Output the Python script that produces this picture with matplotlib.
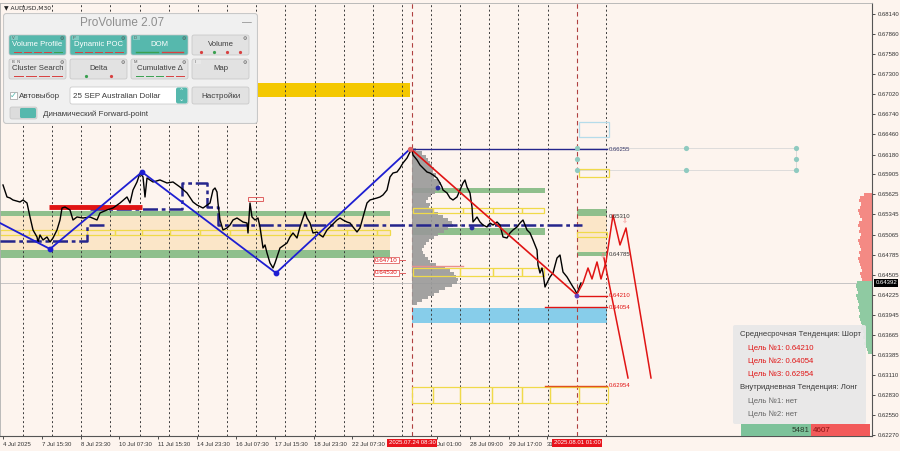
import numpy as np
import matplotlib.pyplot as plt
from matplotlib.patches import Rectangle, FancyBboxPatch
from matplotlib.transforms import blended_transform_factory

plt.rcParams['font.family'] = ['Liberation Sans', 'DejaVu Sans']

BG = '#fdf4ee'
GREEN = '#8fbf8c'
BEIGE = '#fbe6c8'
YELLOW = '#f0da4a'
GOLD = '#f4c800'
NAVY = '#25258c'
BLUE = '#1e1ed2'
RED = '#e01414'
TEAL = '#56b8ad'

# ---- AUDUSD M30 closes (x = chart position) ---------------------------
t = [3, 7, 10, 13, 20, 23, 27, 30, 33, 37, 38, 40, 43, 47, 50, 53, 57, 60, 62, 65,
     70, 73, 77, 83, 90, 97, 100, 107, 113, 120, 127, 130, 133, 137, 140, 143, 145, 147, 153, 160,
     167, 173, 180, 187, 193, 197, 203, 210, 213, 215, 217, 218, 220, 223, 227, 230, 233, 237, 240, 243,
     247, 248, 250, 252, 255, 258, 260, 263, 265, 267, 270, 273, 275, 277, 280, 287, 290, 293, 297, 300,
     303, 305, 307, 310, 313, 317, 320, 323, 327, 330, 337, 340, 343, 347, 350, 353, 357, 360, 363, 365,
     367, 370, 377, 380, 383, 387, 390, 393, 397, 400, 403, 407, 410, 412, 413, 417, 420, 423, 427, 430,
     433, 437, 440, 442, 443, 447, 450, 453, 457, 460, 463, 465, 467, 470, 472, 473, 477, 480, 483, 487,
     490, 493, 497, 500, 503, 507, 510, 513, 517, 520, 523, 527, 530, 533, 537, 538, 540, 542, 543, 545,
     547, 550, 553, 557, 560, 563, 567, 570, 573, 575, 577, 579, 581]
close = [0.65756, 0.65589, 0.65575, 0.65547, 0.65519, 0.65547, 0.65505, 0.65310, 0.65129, 0.65031,
         0.64961, 0.65059, 0.64989, 0.65031, 0.64961, 0.65017, 0.65129, 0.65268, 0.65435, 0.65449,
         0.65408, 0.65268, 0.65310, 0.65296, 0.65310, 0.65268, 0.65366, 0.65408, 0.65435, 0.65505,
         0.65589, 0.65505, 0.65686, 0.65798, 0.65923, 0.65868, 0.65589, 0.65854, 0.65798, 0.65826,
         0.65784, 0.65798, 0.65728, 0.65645, 0.65519, 0.65477, 0.65435, 0.65505, 0.65686, 0.65714,
         0.65658, 0.65505, 0.65268, 0.65129, 0.65157, 0.65198, 0.65268, 0.65296, 0.65268, 0.65240,
         0.65226, 0.65087, 0.65505, 0.65310, 0.65268, 0.65296, 0.65171, 0.64878, 0.64920, 0.64808,
         0.64669, 0.64599, 0.64669, 0.64752, 0.64878, 0.64947, 0.65031, 0.65087, 0.65017, 0.65171,
         0.65296, 0.65380, 0.65296, 0.65226, 0.65087, 0.65101, 0.65059, 0.65031, 0.65129, 0.65171,
         0.65268, 0.65296, 0.65268, 0.65240, 0.65226, 0.65171, 0.65101, 0.65157, 0.65310, 0.65408,
         0.65505, 0.65547, 0.65575, 0.65589, 0.65617, 0.65686, 0.65868, 0.65923, 0.65937, 0.65993,
         0.66063, 0.66132, 0.66216, 0.66244, 0.66174, 0.66105, 0.66035, 0.65993, 0.65937, 0.65923,
         0.65896, 0.65854, 0.65784, 0.65728, 0.65686, 0.65645, 0.65575, 0.65547, 0.65589, 0.65686,
         0.65784, 0.65826, 0.65728, 0.65645, 0.65449, 0.65240, 0.65310, 0.65240, 0.65198, 0.65171,
         0.65226, 0.65198, 0.65240, 0.65198, 0.65031, 0.65017, 0.65087, 0.65129, 0.65171, 0.65226,
         0.65268, 0.65129, 0.65087, 0.64989, 0.64850, 0.64641, 0.64529, 0.64599, 0.64529, 0.64334,
         0.64390, 0.64474, 0.64529, 0.64738, 0.64780, 0.64543, 0.64474, 0.64404, 0.64334, 0.64292,
         0.64236, 0.64320, 0.64390]
last_price = 0.64392

# zigzag swings and trend
zig_t = [0, 50, 142, 276, 410]
zig_p = [0.65226, 0.64864, 0.65937, 0.64529, 0.66258]
trend_t = [412, 577]
trend_p = [0.66244, 0.64222]
fc_t = [577, 583, 588, 592, 597, 601, 606, 613, 620, 626, 651]
fc_p = [0.64236, 0.64390, 0.64599, 0.64446, 0.64683, 0.64446, 0.64683, 0.65338, 0.64920, 0.65157, 0.63066]
fc2_t = [604, 628]
fc2_p = [0.64738, 0.63066]

# stepped POC lines
poc1_t = [0, 87, 87, 107]
poc1_p = [0.64975, 0.64975, 0.65198, 0.65198]
poc2_t = [90, 182, 182, 207, 207, 218, 218, 582]
poc2_p = [0.65421, 0.65421, 0.65784, 0.65784, 0.65449, 0.65449, 0.65198, 0.65198]

# zones: start, end, low, high
green_zones = [(0, 390, 0.65324, 0.65394), (0, 390, 0.64738, 0.64850),
               (412, 545, 0.65645, 0.65714), (412, 545, 0.65059, 0.65157),
               (577, 607, 0.65324, 0.65421), (577, 607, 0.64766, 0.64822)]
beige_zones = [(0, 390, 0.64850, 0.65324), (577, 607, 0.64822, 0.65324)]
yellow_rows = [([0, 29, 58, 87, 115, 142, 170, 200, 230, 260, 290, 320, 347, 377, 390], 0.65059, 0.65129),
               ([413, 433, 463, 493, 522, 544], 0.65366, 0.65435),
               ([413, 460, 493, 522, 544], 0.64487, 0.64599),
               ([412, 433, 460, 492, 522, 550, 579, 608], 0.62717, 0.62940),
               ([577, 607], 0.65031, 0.65101),
               ([579, 609], 0.65868, 0.65979)]
gold_zone = (250, 410, 0.66983, 0.67178)
sky_zone = (412, 607, 0.63832, 0.64042)
sky_box = (579, 609, 0.66425, 0.66634)

level_lines = [(410, 607, 0.66255, NAVY), (577, 607, 0.64210, RED),
               (545, 607, 0.64054, RED), (545, 607, 0.62954, '#e05020'),
               (412, 463, 0.64620, '#e89090')]
level_labels = [(0.66255, '0.66255', '#3a3a6a'), (0.65310, '0.65310', '#333333'),
                (0.64785, '0.64785', '#333333'), (0.64210, '0.64210', RED),
                (0.64054, '0.64054', RED), (0.62954, '0.62954', RED)]
box_labels = [0.64710, 0.64530]

red_bar = (49, 142, 0.65449)
grid_t = [23, 52, 81, 110, 140, 169, 198, 227, 256, 285, 315, 344, 373, 402, 431, 460, 489, 518, 548, 606]
event_t = [412, 577]

# volume profile of last swing
prof_top, prof_step = 0.66244, 0.00042
prof_w = [4, 10, 14, 16, 18, 20, 22, 21, 24, 22, 26, 29, 27, 25, 23, 19, 16, 14, 18, 17,
          21, 26, 31, 36, 40, 41, 36, 32, 26, 22, 17, 14, 12, 10, 11, 13, 16, 18, 24, 33,
          38, 42, 44, 46, 45, 40, 33, 27, 22, 16, 10, 5]

# right-side market profile
sell_top = 0.65617
sell_vol = [8, 12, 13, 11, 12, 14, 13, 12, 10, 13, 14, 12, 13, 11, 12, 14, 13, 12, 11, 13,
            12, 14, 13, 12, 11, 10, 12, 11, 10, 9]
buy_top = 0.64390
buy_vol = [15, 16, 15, 14, 16, 15, 14, 13, 14, 13, 12, 13, 12, 11, 10, 11, 9, 8, 9, 7, 8, 6, 5, 4]
sell_ticks_p = [0.66969, 0.66286, 0.66132, 0.65937, 0.65882, 0.65812, 0.65742]
sell_ticks_v = [15, 8, 6, 22, 10, 6, 9]
buy_total, sell_total = 5481, 4607

price_ticks = [0.68140, 0.67860, 0.67580, 0.67300, 0.67020, 0.66740, 0.66460, 0.66180, 0.65905,
               0.65625, 0.65345, 0.65065, 0.64785, 0.64505, 0.64225, 0.63945, 0.63665, 0.63385,
               0.63110, 0.62830, 0.62550, 0.62270]
time_ticks = [3, 42, 81, 119, 158, 197, 236, 275, 314, 352, 437, 470, 509, 547]
time_labels = ['4 Jul 2025', '7 Jul 15:30', '8 Jul 23:30', '10 Jul 07:30', '11 Jul 15:30',
               '14 Jul 23:30', '16 Jul 07:30', '17 Jul 15:30', '18 Jul 23:30', '22 Jul 07:30',
               'Jul 01:00', '28 Jul 09:00', '29 Jul 17:00', '31']
event_labels = ['2025.07.24 08:30', '2025.08.01 01:00']

info_lines = [('Среднесрочная Тенденция: Шорт', '#3a3a3a', 0),
              ('Цель №1: 0.64210', RED, 1), ('Цель №2: 0.64054', RED, 1),
              ('Цель №3: 0.62954', RED, 1),
              ('Внутридневная Тенденция: Лонг', '#3a3a3a', 0),
              ('Цель №1: нет', '#666666', 1), ('Цель №2: нет', '#666666', 1)]

# ---- figure ------------------------------------------------------------
fig = plt.figure(figsize=(9, 4.51), dpi=100)
fig.patch.set_facecolor(BG)
ax = fig.add_axes([0, 15 / 451, 872 / 900, 433 / 451])
ax.set_facecolor(BG)
ax.set_xlim(0, 872)
ax.set_ylim(0.62257, 0.68293)

for a, b, lo, hi in beige_zones:
    ax.add_patch(Rectangle((a, lo), b - a, hi - lo, color=BEIGE, lw=0, zorder=1))
for a, b, lo, hi in green_zones:
    ax.add_patch(Rectangle((a, lo), b - a, hi - lo, color=GREEN, lw=0, zorder=1.2))
ax.add_patch(Rectangle((gold_zone[0], gold_zone[2]), gold_zone[1] - gold_zone[0],
                       gold_zone[3] - gold_zone[2], color=GOLD, lw=0, zorder=1))
ax.add_patch(Rectangle((sky_zone[0], sky_zone[2]), sky_zone[1] - sky_zone[0],
                       sky_zone[3] - sky_zone[2], color='#87cdea', lw=0, zorder=1))
ax.add_patch(Rectangle((sky_box[0], sky_box[2]), sky_box[1] - sky_box[0],
                       sky_box[3] - sky_box[2], fill=False, ec='#b5dcea', lw=0.9, zorder=2))

ax.vlines(grid_t, 0.62257, 0.68293, colors='#3a3a3a', linestyles=(0, (2, 2.6)), lw=0.7, zorder=1.5)
ax.vlines(event_t, 0.62257, 0.68293, colors='#b04040', linestyles=(0, (4, 3)), lw=0.8, zorder=1.5)
ax.axhline(last_price, color='#bdbdbd', lw=0.6, zorder=1.6)

prof_y = prof_top - np.arange(len(prof_w)) * prof_step
ax.barh(prof_y, prof_w, height=prof_step, left=412, color='#999999', alpha=0.9, lw=0, zorder=2)

for edges, lo, hi in yellow_rows:
    for a, b in zip(edges[:-1], edges[1:]):
        ax.add_patch(Rectangle((a, lo), b - a, hi - lo, fill=False, ec=YELLOW, lw=0.9, zorder=2.5))

sell_y = sell_top - np.arange(len(sell_vol)) * prof_step
ax.barh(sell_y, sell_vol, height=prof_step, left=872 - np.array(sell_vol), color='#f48a84', lw=0, zorder=2)
ax.barh(sell_ticks_p, sell_ticks_v, height=0.00012, left=872 - np.array(sell_ticks_v),
        color='#f4a8a4', lw=0, zorder=2)
buy_y = buy_top - np.arange(len(buy_vol)) * prof_step
ax.barh(buy_y, buy_vol, height=prof_step, left=872 - np.array(buy_vol), color='#8fcaa2', lw=0, zorder=2)

ax.plot(poc1_t, poc1_p, color=NAVY, lw=1.8, ls=(0, (6, 1.5, 1.5, 1.5)), zorder=3)
ax.plot(poc2_t, poc2_p, color=NAVY, lw=1.8, ls=(0, (6, 1.5, 1.5, 1.5)), zorder=3)
ax.plot([red_bar[0], red_bar[1]], [red_bar[2]] * 2, color=RED, lw=3.5, solid_capstyle='butt', zorder=3)
ax.add_patch(Rectangle((248, 0.65533), 15, 0.00056, fill=False, ec='#e06060', lw=0.7, zorder=3))

for a, b, p, c in level_lines:
    ax.plot([a, b], [p, p], color=c, lw=1.0, zorder=3)
for p, lab, c in level_labels:
    ax.text(609, p, lab, fontsize=4.3, color=c, va='center', ha='left', zorder=5)
for p in box_labels:
    ax.text(386.5, p, f'{p:.5f}', fontsize=4.5, color=RED, va='center', ha='center', zorder=5,
            bbox=dict(boxstyle='square,pad=0.15', fc='white', ec='#e06060', lw=0.6))
    ax.plot([400, 405], [p, p], color='#e06060', lw=0.7, zorder=4)

# teal anchor dots
ax.plot([577, 796], [0.66272, 0.66272], color='#d8d8d8', lw=0.6, zorder=2)
ax.plot([577, 796], [0.65965, 0.65965], color='#d8d8d8', lw=0.6, zorder=2)
ax.plot([796, 796], [0.65965, 0.66272], color='#d8d8d8', lw=0.6, zorder=2)
ax.scatter([577, 686, 796, 577, 796, 577, 686, 796],
           [0.66272, 0.66272, 0.66272, 0.66119, 0.66119, 0.65965, 0.65965, 0.65965],
           s=14, color='#8fcac0', zorder=4, lw=0)

ax.plot(t, close, color='black', lw=1.0, zorder=4)
ax.plot(zig_t, zig_p, color=BLUE, lw=1.3, zorder=4.5)
ax.scatter(zig_t[1:4], zig_p[1:4], s=10, color=BLUE, zorder=5)
ax.scatter([410], [zig_p[-1]], s=8, color='#e06060', zorder=5)
ax.scatter([438, 472, 577], [0.65714, 0.65157, 0.64208], s=6, color=['#2a2aa0', '#2a2aa0', '#6040c0'], zorder=5)
ax.plot(trend_t, trend_p, color=RED, lw=1.2, zorder=4.5)
ax.plot(fc_t, fc_p, color=RED, lw=1.1, zorder=4.5)
ax.plot(fc2_t, fc2_p, color=RED, lw=1.1, zorder=4.5)
ax.text(603, 0.64760, '⇩', fontsize=5, color='#f08080', ha='center', va='center', zorder=5)
ax.text(625, 0.65250, '⇩', fontsize=5, color='#f08080', ha='center', va='center', zorder=5)

# axes styling
ax.yaxis.tick_right()
ax.set_yticks(price_ticks, [f'{p:.5f}' for p in price_ticks])
ax.set_xticks(time_ticks, time_labels, ha='left')
ax.tick_params(axis='y', labelsize=4.3, length=2.5, pad=1.5, colors='#333333', width=0.6)
ax.tick_params(axis='x', labelsize=4.3, length=2.5, pad=1.5, colors='#333333', width=0.6)
for s in ['right', 'bottom']:
    ax.spines[s].set_color('#555555')
    ax.spines[s].set_linewidth(0.8)
for s in ['left', 'top']:
    ax.spines[s].set_color('#b0b0b0')
    ax.spines[s].set_linewidth(0.6)

bx = blended_transform_factory(ax.transData, ax.transAxes)
for x, lab in zip(event_t, event_labels):
    ax.text(x, -0.016, lab, transform=bx, fontsize=4.3, color='white', ha='center', va='center',
            clip_on=False, zorder=6, bbox=dict(boxstyle='square,pad=0.25', fc='#e8141c', ec='none'))
by = blended_transform_factory(ax.transAxes, ax.transData)
ax.text(1.004, last_price, f'{last_price:.5f}', transform=by, fontsize=4.3, color='white',
        ha='left', va='center', clip_on=False, zorder=6,
        bbox=dict(boxstyle='square,pad=0.2', fc='black', ec='none'))

# ---- overlay: info box, counters, symbol -------------------------------
ui = fig.add_axes([0, 0, 1, 1])
ui.set_xlim(0, 900)
ui.set_ylim(451, 0)
ui.axis('off')
ui.patch.set_alpha(0)
ui.text(4, 8, '▼ AUDUSD,M30', fontsize=4.3, color='#222222', va='center', family=['DejaVu Sans'])
ui.add_patch(FancyBboxPatch((733, 325), 133, 99, boxstyle='round,pad=0,rounding_size=2',
                            fc='#e8e8e8', ec='none', alpha=0.93))
for i, (txt, c, ind) in enumerate(info_lines):
    ui.text(740 + 8 * ind, 335 + i * 13.2, txt, fontsize=5.6, color=c, va='center')
tot = buy_total + sell_total
gw = 129 * buy_total / tot
ui.add_patch(Rectangle((741, 424), gw, 12, color='#7dc29a', lw=0))
ui.add_patch(Rectangle((741 + gw, 424), 129 - gw, 12, color='#f25a5a', lw=0))
ui.text(741 + gw - 1.5, 430, str(buy_total), fontsize=5.8, ha='right', va='center', color='#2a3a2a')
ui.text(741 + gw + 1.5, 430, str(sell_total), fontsize=5.8, ha='left', va='center', color='#8a1010')

# ---- ProVolume panel ---------------------------------------------------
pn = fig.add_axes([3 / 900, 1 - 124 / 451, 255 / 900, 111 / 451])
pn.set_xlim(3, 258)
pn.set_ylim(124, 13)
pn.axis('off')
pn.add_patch(FancyBboxPatch((3.5, 13.5), 254, 110, boxstyle='round,pad=0,rounding_size=3',
                            fc='#f0f0f0', ec='#c8c8c8', lw=0.8))
pn.text(122, 23, 'ProVolume 2.07', fontsize=8.5, color='#8e8e8e', ha='center', va='center')
pn.text(247, 22, '—', fontsize=7, color='#8e8e8e', ha='center', va='center')

buttons = [('Volume Profile', 9, 35, True, 'V', 'rrrrg', '-'),
           ('Dynamic POC', 70, 35, True, 'P', 'rrrrr', '-'),
           ('DOM', 131, 35, True, 'D', 'gr', '='),
           ('Volume', 192, 35, False, '', 'rgrr', '.'),
           ('Cluster Search', 9, 59, False, 'B  N', 'rrrr', '-'),
           ('Delta', 70, 59, False, '', 'gr', '.'),
           ('Cumulative Δ', 131, 59, False, 'M', 'gggrr', '-'),
           ('Map', 192, 59, False, 'I', '', '-')]
bw, bh = 57, 20
for lab, x0, y0, teal, tag, inds, kind in buttons:
    pn.add_patch(FancyBboxPatch((x0, y0), bw, bh, boxstyle='round,pad=0,rounding_size=2',
                                fc=TEAL if teal else '#e2e2e2', ec='#c4c4c4', lw=0.5))
    pn.text(x0 + bw / 2, y0 + 10, lab, fontsize=5.6, ha='center', va='center',
            color='white' if teal else '#3c3c3c')
    if tag:
        pn.add_patch(Rectangle((x0 + 1.5, y0 + 0.8), 4 + 3 * len(tag.split()), 4.2,
                               fc='#e8e8e8' if not teal else '#7fcac1', ec='none'))
        pn.text(x0 + 2.5, y0 + 3, tag, fontsize=3, color='#555555', va='center')
    pn.text(x0 + bw - 4, y0 + 3, '⚙', fontsize=3.5, color='#555555', ha='center', va='center',
            family=['DejaVu Sans'])
    col = {'r': '#d84040', 'g': '#3aa050'}
    if inds:
        n = len(inds)
        seg = (bw - 6) / n
        for k, ch in enumerate(inds):
            xa = x0 + 3 + k * seg
            if kind == '.':
                pn.plot([xa + seg / 2], [y0 + bh - 3], marker='o', ms=1.3, color=col[ch], lw=0)
            elif kind == '=':
                pn.plot([xa + 2, xa + seg - 2], [y0 + bh - 3] * 2, color=col[ch], lw=1.0)
            else:
                pn.plot([xa + 1.5, xa + seg - 1.5], [y0 + bh - 3] * 2, color=col[ch], lw=0.7)

# row 3
pn.add_patch(Rectangle((10, 92), 7, 7, fc='white', ec='#9a9a9a', lw=0.5))
pn.text(13.5, 95, '✓', fontsize=6, color=TEAL, ha='center', va='center', family=['DejaVu Sans'])
pn.text(19, 96, 'Автовыбор', fontsize=5.8, color='#3c3c3c', va='center')
pn.add_patch(FancyBboxPatch((70, 87), 118, 17, boxstyle='round,pad=0,rounding_size=2',
                            fc='white', ec='#c4c4c4', lw=0.5))
pn.add_patch(FancyBboxPatch((176, 87.5), 11.5, 16, boxstyle='round,pad=0,rounding_size=2',
                            fc=TEAL, ec='none'))
pn.text(181.8, 92, '⌃', fontsize=4.5, color='white', ha='center', va='center', family=['DejaVu Sans'])
pn.text(181.8, 99.5, '⌄', fontsize=4.5, color='white', ha='center', va='center', family=['DejaVu Sans'])
pn.text(73, 96, '25 SEP Australian Dollar', fontsize=5.8, color='#3c3c3c', va='center')
pn.add_patch(FancyBboxPatch((192, 87), 57, 17, boxstyle='round,pad=0,rounding_size=2',
                            fc='#e2e2e2', ec='#c4c4c4', lw=0.5))
pn.text(220.5, 96, 'Настройки', fontsize=5.8, color='#3c3c3c', ha='center', va='center')
# row 4
pn.add_patch(FancyBboxPatch((10, 107), 27, 12, boxstyle='round,pad=0,rounding_size=2',
                            fc='#dcdcdc', ec='#c4c4c4', lw=0.5))
pn.add_patch(FancyBboxPatch((20, 108), 16, 10, boxstyle='round,pad=0,rounding_size=1.5',
                            fc=TEAL, ec='none'))
pn.text(43, 114, 'Динамический Forward-point', fontsize=5.8, color='#3c3c3c', va='center')

fig.savefig('out.png', dpi=100, facecolor=BG)
